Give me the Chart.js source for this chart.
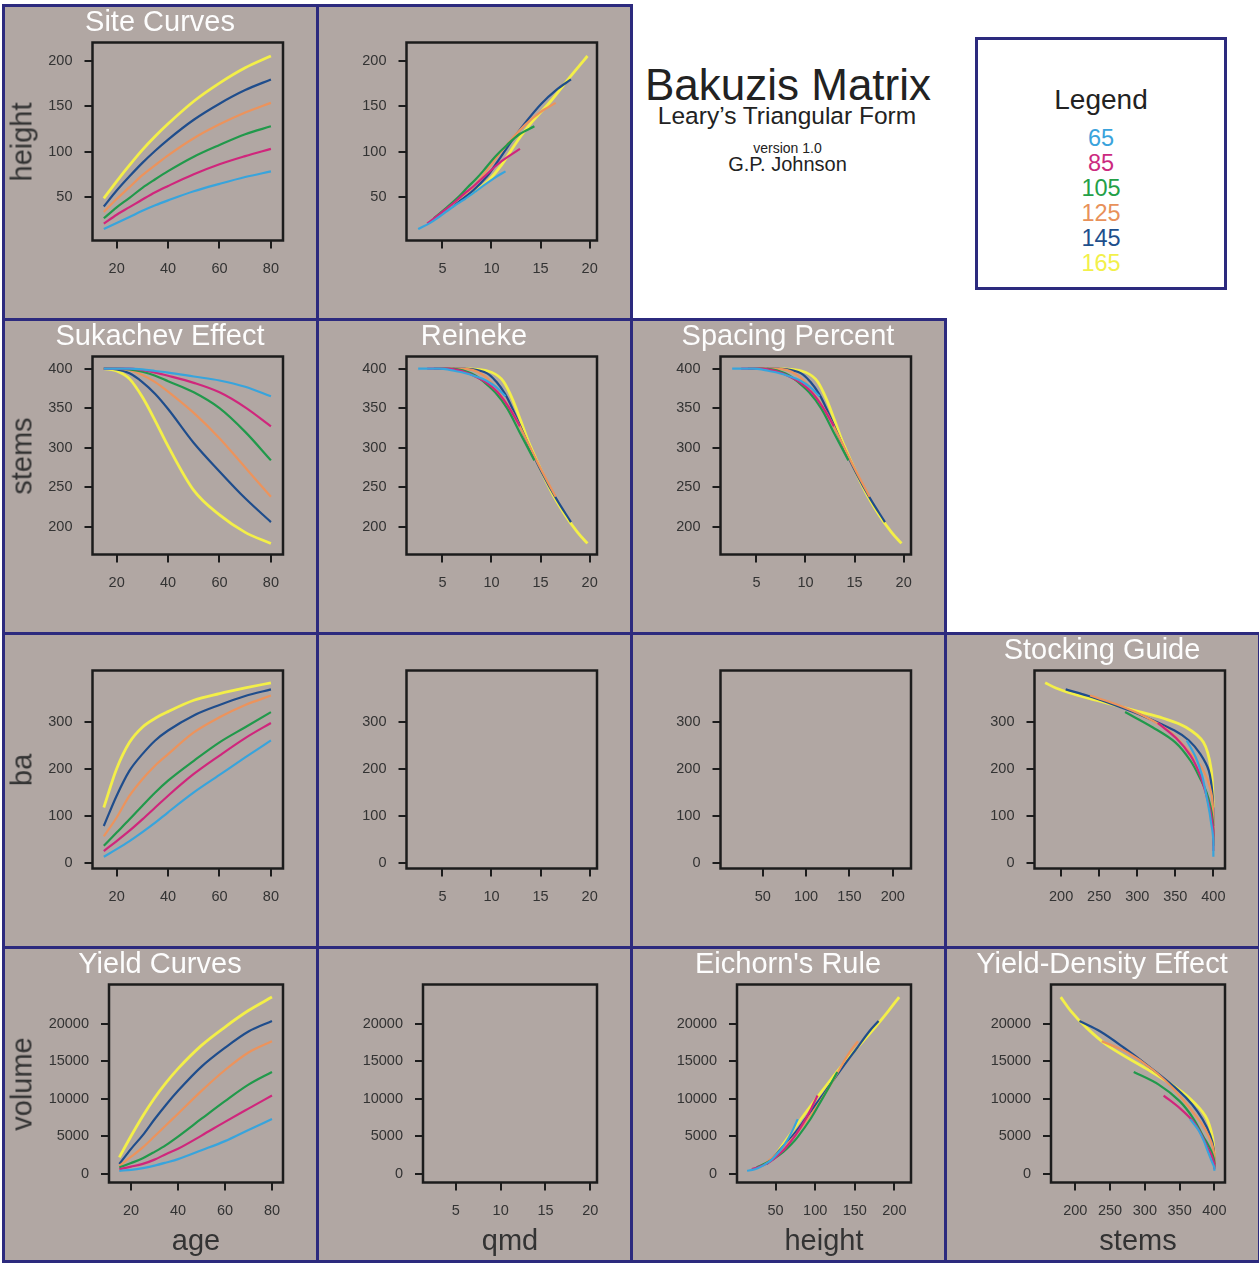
<!DOCTYPE html>
<html>
<head>
<meta charset="utf-8">
<script src="https://cdn.jsdelivr.net/npm/chart.js@4.4.1/dist/chart.umd.min.js"></script>
<style>
  body { margin: 0; background: #fff; width: 1259px; height: 1269px; position: relative; overflow: hidden;
         font-family: "Liberation Sans", Arial, Helvetica, sans-serif; }
  .panel { position: absolute; box-sizing: border-box; border: 3px solid #2c2a7e; background: #b1a7a3; }
  canvas { position: absolute; }
  .txt { position: absolute; white-space: nowrap; line-height: 1; }
  #legendBox { position: absolute; left: 975px; top: 37px; width: 252px; height: 253px;
               box-sizing: border-box; border: 3px solid #2c2a7e; background: #fff; }
</style>
</head>
<body>
<div id="legendBox"></div>
<script>
// ---- data (one row per site index) ----
const ages = [15, 20, 25, 30, 35, 40, 50, 60, 70, 80];
const siteIndex = ['65', '85', '105', '125', '145', '165'];

const height = [
  [14, 20.6, 27.4, 34.3, 40.4, 45.8, 55.9, 64.1, 71.7, 78],
  [20, 29.9, 38.3, 46.8, 54.9, 61.8, 74.8, 85.9, 94.9, 103],
  [26, 38.1, 48.6, 59.8, 69.3, 78.3, 94.3, 107.3, 119.2, 128],
  [33, 47.4, 60.5, 73.8, 84.9, 95.8, 114.8, 130.2, 143.4, 154],
  [39, 56.7, 72.5, 87.4, 100.9, 113.3, 135.3, 153.1, 168.2, 180],
  [48, 67, 84.9, 101.9, 117, 130.8, 155.8, 175.9, 192.9, 206]
];
const stems = [
  [400, 400, 400, 399, 397, 395, 390, 385, 377, 365],
  [400, 400, 400, 398, 395, 391, 382, 370, 351, 327],
  [400, 400, 399, 396, 391, 384, 370, 350, 320, 284],
  [400, 400, 398, 392, 383, 371, 344, 312, 275, 238],
  [400, 399, 394, 383, 368, 349, 306, 270, 236, 206],
  [400, 397, 387, 364, 334, 302, 246, 215, 193, 179]
];
const ba = [
  [14, 30, 47, 66, 86, 108, 150, 187, 224, 260],
  [26, 47, 69, 93, 118, 143, 189, 228, 265, 297],
  [37, 65, 93, 122, 150, 175, 217, 256, 288, 320],
  [57, 97, 143, 178, 207, 231, 277, 309, 335, 355],
  [79, 143, 196, 231, 260, 281, 313, 335, 354, 368],
  [118, 200, 256, 288, 307, 321, 345, 359, 371, 382]
];
const qmd = [
  [2.53, 3.71, 4.64, 5.51, 6.30, 7.08, 8.40, 9.44, 10.44, 11.43],
  [3.45, 4.64, 5.62, 6.55, 7.40, 8.19, 9.52, 10.63, 11.77, 12.90],
  [4.12, 5.46, 6.54, 7.52, 8.39, 9.14, 10.37, 11.58, 12.85, 14.37],
  [5.11, 6.67, 8.12, 9.12, 9.95, 10.69, 12.15, 13.48, 14.95, 16.54],
  [6.02, 8.11, 9.55, 10.52, 11.38, 12.15, 13.69, 15.08, 16.58, 18.10],
  [7.35, 9.61, 11.01, 12.04, 12.98, 13.96, 16.03, 17.50, 18.77, 19.78]
];
const volume = [
  [400, 520, 750, 1090, 1510, 1960, 3140, 4360, 5850, 7300],
  [620, 950, 1320, 1890, 2650, 3340, 5100, 6930, 8700, 10450],
  [850, 1430, 2070, 2930, 3870, 4970, 7350, 9700, 11900, 13600],
  [1070, 2280, 3530, 5010, 6520, 8020, 11070, 13860, 16200, 17700],
  [1300, 3330, 5170, 7280, 9260, 11080, 14310, 16830, 19000, 20400],
  [2200, 5040, 7710, 10110, 12190, 14040, 17150, 19600, 21800, 23600]
];

// tick labels
const ageTicks = [20, 40, 60, 80];
const heightTicks = [50, 100, 150, 200];
const qmdTicks = [5, 10, 15, 20];
const stemsTicks = [200, 250, 300, 350, 400];
const baTicks = [0, 100, 200, 300];
const volumeTicks = [0, 5000, 10000, 15000, 20000];

// ---- look ----
const FONT = '"Liberation Sans", Arial, Helvetica, sans-serif';
const COLORS = ['#38a4dc', '#d0267c', '#21994b', '#ec935c', '#1f4d8c', '#f3ef48'];
const GRID_X = [3, 317, 631, 945, 1259];
const GRID_Y = [5, 319, 633, 947, 1261];

Chart.defaults.font.family = FONT;

const series = { height, stems, ba, qmd, volume };
const ticksFor = { age: ageTicks, height: heightTicks, qmd: qmdTicks, stems: stemsTicks, ba: baTicks, volume: volumeTicks };
const rangeFor = { age: [10.6, 84.7], height: [1.3, 221], qmd: [1.34, 20.75], stems: [165, 415.3], ba: [-11, 408], volume: [-1165, 25277] };

function values(name, i) {
    return name === 'age' ? ages : series[name][i];
}

const boxPlugin = {
    id: 'plotBox',
    afterDraw: (chart) => {
        const { ctx, chartArea: a } = chart;
        ctx.save();
        ctx.strokeStyle = '#1c1c1c';
        ctx.lineWidth = 2.5;
        ctx.strokeRect(a.left, a.top, a.right - a.left, a.bottom - a.top);
        ctx.restore();
    }
};

function addText(text, cx, baseline, size, color, rotate) {
    const d = document.createElement('div');
    d.className = 'txt';
    d.textContent = text;
    d.style.fontSize = size + 'px';
    d.style.color = color;
    if (rotate) {
        // baseline given as x position for the rotated label
        d.style.left = (baseline - 0.3465 * size) + 'px';
        d.style.top = cx + 'px';
        d.style.transform = 'translate(-50%, -50%) rotate(-90deg)';
    } else {
        d.style.left = cx + 'px';
        d.style.top = (baseline - 0.8465 * size) + 'px';
        d.style.transform = 'translateX(-50%)';
    }
    document.body.appendChild(d);
}

function scaleOptions(name, isX, fitSize) {
    const [min, max] = rangeFor[name];
    return {
        type: 'linear',
        position: isX ? 'bottom' : 'left',
        min, max,
        afterFit: (s) => { if (isX) s.height = fitSize; else s.width = fitSize; },
        afterBuildTicks: (s) => { s.ticks = ticksFor[name].map(v => ({ value: v })); },
        grid: { display: true, drawOnChartArea: false, drawTicks: true, tickLength: 8, color: '#1c1c1c', lineWidth: 2 },
        border: { display: false },
        ticks: {
            padding: isX ? 12 : 12,
            color: '#333',
            font: { size: 14.5 },
            maxRotation: 0,
            autoSkip: false,
            callback: (v) => String(v)
        }
    };
}

function drawPanel(p) {
    const x0 = GRID_X[p.col], y0 = GRID_Y[p.row];
    const w = GRID_X[p.col + 1] - x0, h = GRID_Y[p.row + 1] - y0;

    const bg = document.createElement('div');
    bg.className = 'panel';
    Object.assign(bg.style, { left: (x0 - 1.5) + 'px', top: (y0 - 1.5) + 'px', width: (w + 3) + 'px', height: (h + 3) + 'px' });
    document.body.appendChild(bg);

    const cv = document.createElement('canvas');
    cv.width = w; cv.height = h;
    Object.assign(cv.style, { left: x0 + 'px', top: y0 + 'px', width: w + 'px', height: h + 'px' });
    document.body.appendChild(cv);

    const boxL = p.row === 3 ? 106 : 89.5, boxR = 280, boxT = 37.5, boxB = 235.5;

    const datasets = p.empty ? [] : siteIndex.map((label, i) => ({
        label,
        data: values(p.x, i).map((xv, k) => ({ x: xv, y: values(p.y, i)[k] })),
        borderColor: COLORS[i],
        borderWidth: i === 5 ? 2.8 : 2.2,
        pointRadius: 0,
        fill: false,
        cubicInterpolationMode: p.x === 'age' ? 'monotone' : 'default',
        tension: 0.35
    }));

    new Chart(cv, {
        type: 'line',
        data: { datasets },
        options: {
            responsive: false,
            animation: false,
            events: [],
            layout: { padding: { left: 0, top: boxT, right: w - boxR, bottom: 0 } },
            plugins: { legend: { display: false }, tooltip: { enabled: false } },
            scales: {
                x: scaleOptions(p.x, true, h - boxB),
                y: scaleOptions(p.y, false, boxL)
            }
        },
        plugins: [boxPlugin]
    });

    if (p.title) addText(p.title, x0 + w / 2, y0 + 27, 29, '#fdfdfd');
    if (p.ylabel) addText(p.ylabel, y0 + (boxT + boxB) / 2, x0 + 29.5, 29, '#333', true);
    if (p.xlabel) addText(p.xlabel, x0 + (boxL + boxR) / 2, y0 + 304, 29, '#333');
}

const panels = [
    { row: 0, col: 0, x: 'age', y: 'height', title: 'Site Curves', ylabel: 'height' },
    { row: 0, col: 1, x: 'qmd', y: 'height' },
    { row: 1, col: 0, x: 'age', y: 'stems', title: 'Sukachev Effect', ylabel: 'stems' },
    { row: 1, col: 1, x: 'qmd', y: 'stems', title: 'Reineke' },
    { row: 1, col: 2, x: 'qmd', y: 'stems', title: 'Spacing Percent' },
    { row: 2, col: 0, x: 'age', y: 'ba', ylabel: 'ba' },
    { row: 2, col: 1, x: 'qmd', y: 'ba', empty: true },
    { row: 2, col: 2, x: 'height', y: 'ba', empty: true },
    { row: 2, col: 3, x: 'stems', y: 'ba', title: 'Stocking Guide' },
    { row: 3, col: 0, x: 'age', y: 'volume', title: 'Yield Curves', ylabel: 'volume', xlabel: 'age' },
    { row: 3, col: 1, x: 'qmd', y: 'volume', empty: true, xlabel: 'qmd' },
    { row: 3, col: 2, x: 'height', y: 'volume', title: "Eichorn's Rule", xlabel: 'height' },
    { row: 3, col: 3, x: 'stems', y: 'volume', title: 'Yield-Density Effect', xlabel: 'stems' }
];
panels.forEach(drawPanel);

// header text
addText('Bakuzis Matrix', 788, 100, 44, '#222');
addText('Leary\u2019s Triangular Form', 787, 125, 24.5, '#222');
addText('version 1.0', 787.5, 152.5, 14, '#222');
addText('G.P. Johnson', 787.5, 170.5, 20, '#222');

// legend
addText('Legend', 1101, 110, 28, '#222');
const legendColors = ['#3aa3dc', '#cc2a7f', '#24a047', '#e8915a', '#1e4f8c', '#f2f04a'];
siteIndex.forEach((s, i) => addText(s, 1101, 146.7 + i * 25, 23.5, legendColors[i]));
</script>
</body>
</html>
